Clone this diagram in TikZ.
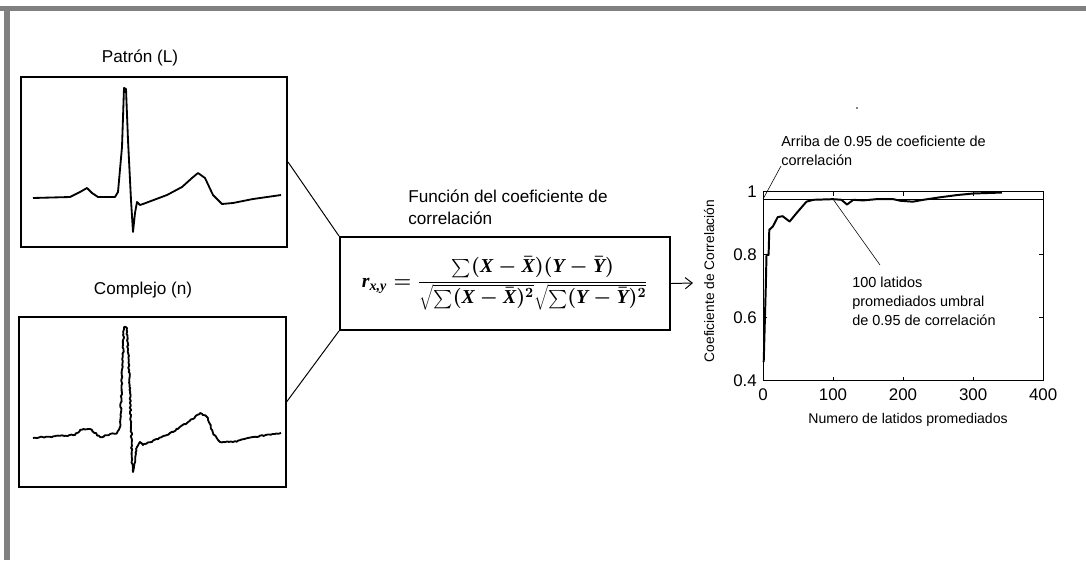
\documentclass[tikz,border=0pt]{standalone}
\usepackage{fontspec}
\setmainfont{Liberation Sans}
\newfontfamily\formfont{Liberation Serif}
\usetikzlibrary{arrows.meta,decorations.pathmorphing}
\newcommand{\bigsum}{\mathop{\raisebox{-0.12em}{\scalebox{1.3}{$\textstyle\sum$}}}}
\newcommand{\fv}[1]{\mbox{\formfont\bfseries\itshape #1}}
\newcommand{\fvs}[1]{\mbox{\fontsize{10}{12}\formfont\bfseries\itshape #1}}
\begin{document}
\begin{tikzpicture}[x=0.025cm, y=-0.025cm, >={Straight Barb[length=5pt,width=8pt]},
    lbl/.style={font=\fontsize{12.2}{15}\selectfont, inner sep=0pt},
    note/.style={font=\fontsize{10.3}{13.5}\selectfont, inner sep=0pt, align=left},
    ticklbl/.style={font=\fontsize{12}{14}\selectfont, inner sep=0pt},
    ecgbox/.style={draw, line width=1.4pt, minimum width=6.65cm, minimum height=4.25cm, inner sep=0pt},
    ecg/.style={line width=1.3pt, line join=round},
    thinline/.style={line width=0.4pt}]
    \useasboundingbox (0,0) rectangle (1086,560);
    % gray frame
    \fill[gray] (0,6) rectangle (1086,11);
    \fill[gray] (4,6) rectangle (10,560);

    % the two beats
    \draw (140,58)node[lbl, name=patron]{Patrón (L)};
    \draw (154,162)node[ecgbox, name=box1]{};
    \draw[ecg] plot coordinates {(33,198) (70,197) (80,192) (87,188) (92,193) (98,197) (115,197)
        (118,192) (122,147) (124,88) (126,89) (128,140) (131,200) (133,232) (135,213) (137,202)
        (140,205) (143,204) (167,195) (182,187) (192,178) (198,173) (205,178) (213,195) (222,204)
        (233,203) (253,199) (281,195)};

    \draw (143,290)node[lbl, name=complejo]{Complejo (n)};
    \draw (152.5,402)node[ecgbox, name=box2]{};
    \pgfmathsetseed{7}
    \draw[ecg, decorate, decoration={random steps, segment length=1.3pt, amplitude=0.5pt}]
        plot coordinates {(33,438) (75,435) (80,430) (90,429) (100,437) (117,433) (120,427)
        (124,327) (127,328) (130,393) (132,460) (133,472) (137,447) (140,442) (143,445) (167,435)
        (187,423) (200,413) (207,417) (213,433) (220,442) (233,442) (253,437) (281,433)};

    % formula
    \draw (408,190)node[lbl, anchor=north west, align=left, name=funcion]{Función del coeficiente de\\correlación};
    \draw (505,283.5)node[draw, line width=1.4pt, minimum width=8.25cm, minimum height=2.325cm,
        font=\fontsize{14}{17}\selectfont\boldmath, name=formula]
        {$\displaystyle \fv{r}_{\fvs{x,y}}=\frac{\bigsum(\fv{X}-\bar{\fv{X}})(\fv{Y}-\bar{\fv{Y}})}{\sqrt{\bigsum(\fv{X}-\bar{\fv{X}})^{2}}\sqrt{\bigsum(\fv{Y}-\bar{\fv{Y}})^{2}}}$\hspace{0.2cm}};
    \draw[line width=0.7pt] (box1.east) -- (formula.north west);
    \draw[line width=0.7pt] (box2.east) -- (formula.south west);
    \coordinate (arrowend) at (693,283);
    \draw[->, line width=0.7pt] (formula.east) -- (arrowend);

    % correlation vs number of beats
    \begin{scope}[shift={(763,507)}, x=0.0175cm, y=7.875cm]
        \draw[line width=0.7pt] (0,0.4) rectangle (400,1);
        \foreach \n in {100,200,300}{
            \draw[line width=0.7pt] (\n,0.4) --++(0,0.013);
            \draw[line width=0.7pt] (\n,1) --++(0,-0.013);
            \draw (\n,0.375)node[ticklbl, anchor=north]{\n};
        }
        \draw (0,0.375)node[ticklbl, anchor=north]{0};
        \draw (400,0.375)node[ticklbl, anchor=north]{400};
        \foreach \v in {0.6,0.8}{
            \draw[line width=0.7pt] (400,\v) --++(-6,0);
            \draw[line width=0.7pt] (0,\v) --++(6,0);
        }
        \foreach \v in {0.4,0.6,0.8,1}{
            \draw (-8.5,\v)node[ticklbl, anchor=east]{\v};
        }
        \coordinate (thr0) at (0,0.977);
        \coordinate (thr100) at (100,0.977);
        \draw[line width=0.6pt] (thr0) -- (400,0.977);
        \draw[line width=1.4pt, line join=round] plot coordinates {(1,0.46) (3,0.62) (4,0.70) (5,0.80)
            (8,0.80) (9,0.88) (14,0.89) (21,0.92) (28,0.923) (38,0.906) (48,0.933) (62,0.969)
            (72,0.975) (100,0.977) (112,0.975) (120,0.96) (129,0.975) (143,0.973) (162,0.977)
            (186,0.977) (196,0.972) (214,0.969) (229,0.975) (253,0.983) (277,0.99) (300,0.995)
            (341,0.998)};
    \end{scope}
    \draw (709,281)node[note, rotate=90, font=\fontsize{9.8}{12}\selectfont, name=ylabel]{Coeficiente de Correlación};
    \draw (908,420)node[note, font=\fontsize{10}{12}\selectfont, name=xlabel]{Numero de latidos promediados};
    \fill (857,108) circle (0.6pt);

    \draw (781,166)node[note, anchor=south west, name=arriba]{Arriba de 0.95 de coeficiente de\\correlación};
    \draw (852,277)node[note, anchor=north west, name=latidos]{100 latidos\\promediados umbral\\de 0.95 de correlación};
    \draw[thinline] (thr0) -- (arriba.south west);
    \draw[thinline] (thr100) -- ([xshift=0.7cm, yshift=0.3cm]latidos.north west);
\end{tikzpicture}
\end{document}
